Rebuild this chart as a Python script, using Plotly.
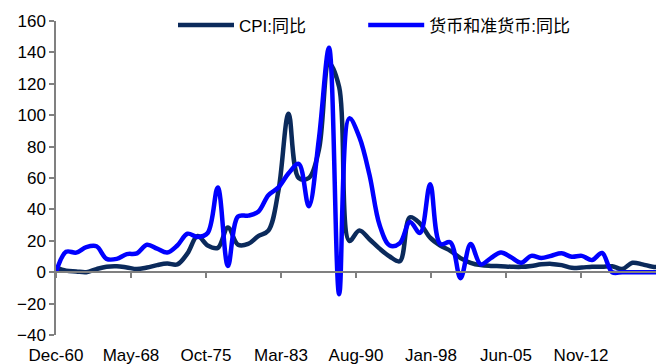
import plotly.graph_objects as go

years = list(range(1960, 2021))
dates = [f"{y}-12-01" for y in years]

cpi_yoy = [3, 1, 0.5, 0, 2, 3.5, 3.8, 3, 2, 3,
           4.5, 5.5, 5, 12, 23, 17, 15.5, 28.5, 17.5, 18,
           23, 26.5, 52, 101, 60, 60, 78, 133, 118, 20,
           26.5, 21, 15, 10, 7, 35, 31, 22, 17, 13.6,
           9, 6, 4.5, 4, 3.8, 3.5, 3.4, 4, 5, 5.3,
           4.5, 2.8, 3, 3.5, 3.5, 3.8, 2, 6, 5, 3.5,
           3.4]

m2_yoy = [0, 13, 12.5, 16, 16.5, 8.5, 8.5, 11.5, 12, 17.5,
          15, 12.5, 17, 24.5, 22.5, 25, 54, 4, 35.5, 36,
          38.5, 49, 54, 63, 69, 42, 85, 143, -14, 98,
          86, 62, 30, 17, 18.5, 32, 25, 56, 18, 19,
          -3.8, 18, 5, 9, 12.6, 9.5, 6, 10.4, 9, 10.5,
          12, 9.8, 10.4, 7.7, 12.2, 0, 0, 0, 0, 0,
          0]

tick_vals = ["1960-12-01", "1968-05-01", "1975-10-01", "1983-03-01",
             "1990-08-01", "1998-01-01", "2005-06-01", "2012-11-01"]
tick_text = ["Dec-60", "May-68", "Oct-75", "Mar-83", "Aug-90", "Jan-98", "Jun-05", "Nov-12"]

x_range = ["1960-12-01", "2020-04-01"]

fig = go.Figure()
fig.add_trace(go.Scatter(x=dates, y=cpi_yoy, name="CPI:同比", mode="lines", legend="legend",
                         line=dict(color="#0B2A5B", width=4.5, shape="spline", smoothing=1)))
fig.add_trace(go.Scatter(x=dates, y=m2_yoy, name="货币和准货币:同比", mode="lines", legend="legend2",
                         line=dict(color="#0000FF", width=4.5, shape="spline", smoothing=1)))
# invisible trace on the zero-line axis so it renders
fig.add_trace(go.Scatter(x=dates[:1], y=[None], xaxis="x2", showlegend=False, hoverinfo="skip"))

font_family = "Liberation Sans, Arial, Noto Sans CJK SC"
legend_common = dict(orientation="h", xanchor="left", yanchor="middle",
                     bgcolor="rgba(0,0,0,0)", font=dict(size=17), itemwidth=56)
fig.update_layout(
    width=656, height=364,
    margin=dict(l=56, r=0, t=21, b=29, autoexpand=False),
    paper_bgcolor="white", plot_bgcolor="white",
    font=dict(family=font_family, size=17, color="#000000"),
    showlegend=True,
    legend=dict(x=0.195, y=0.986, **legend_common),
    legend2=dict(x=0.512, y=0.986, **legend_common),
    xaxis=dict(type="date", range=x_range, tickvals=tick_vals, ticktext=tick_text,
               showgrid=False, zeroline=False, showline=False, automargin=False,
               ticks="outside", ticklen=5, tickcolor="rgba(0,0,0,0)"),
    xaxis2=dict(type="date", range=x_range, tickvals=tick_vals, overlaying="x",
                anchor="free", position=0.2, showticklabels=False,
                showgrid=False, zeroline=False, showline=True, linecolor="#808080", linewidth=1.5,
                ticks="outside", ticklen=5, tickcolor="#808080", tickwidth=1.5),
    yaxis=dict(range=[-40, 160], dtick=20, tick0=0, showgrid=False, zeroline=False,
               showline=True, linecolor="#808080", linewidth=1.5, automargin=False,
               ticks="outside", ticklen=5, tickcolor="#808080", tickwidth=1.5),
)

fig.write_html("out.html", config={"displayModeBar": False})
with open("out.html", encoding="utf-8") as f:
    html = f.read()
html = html.replace("<head>", "<head><style>html,body{margin:0;padding:0;overflow:hidden;}</style>", 1)
with open("out.html", "w", encoding="utf-8") as f:
    f.write(html)
